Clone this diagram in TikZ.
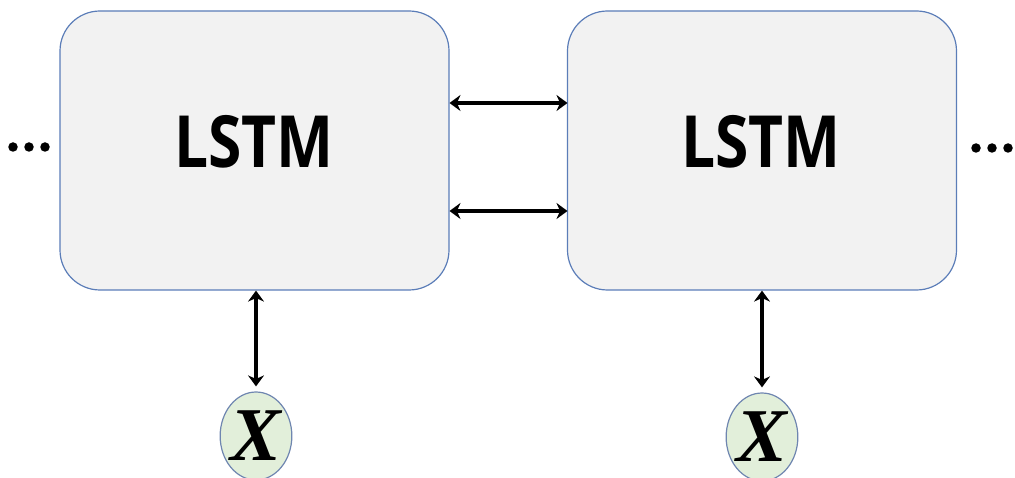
\documentclass[tikz,border=0pt]{standalone}
\usepackage{fontspec}
\setmainfont{Open Sans}
\newfontfamily\lstmfont{Open Sans}[UprightFont={* Bold}]
\newfontfamily\xfont{Liberation Serif}[UprightFont={* Bold Italic}]
\usetikzlibrary{arrows.meta,shapes.geometric}
\definecolor{boxfill}{HTML}{F2F2F2}
\definecolor{boxline}{HTML}{5B7DB8}
\definecolor{ellfill}{HTML}{E2EFDA}
\definecolor{ellline}{HTML}{6F86B0}
\tikzset{
  lstmbox/.style={draw=boxline, fill=boxfill, line width=1.2pt, rounded corners=40pt, minimum width=389pt, minimum height=279pt, inner sep=0pt},
  lstmtext/.style={font=\lstmfont\fontsize{72}{80}\selectfont, inner sep=0pt, xscale=0.84},
  xnode/.style={ellipse, draw=ellline, fill=ellfill, line width=1.2pt, minimum width=68pt, minimum height=88pt, inner sep=0pt, font=\xfont\fontsize{76}{80}\selectfont},
  link/.style={line width=3.6pt, >={Stealth[length=11pt,width=16pt]}, <->},
  dot/.style={circle, fill=black, minimum size=9.5pt, inner sep=0pt},
}
\begin{document}
\begin{tikzpicture}[x=1pt,y=-1pt]
\useasboundingbox (0,0) rectangle (1015,478);
\node[lstmbox] (b1) at (254.5,150.5) {};
\node[lstmbox] (b2) at (762,150.5) {};
\node[lstmtext] (t1) at (254,142) {LSTM};
\node[lstmtext] (t2) at (761,142) {LSTM};
\node[xnode] (x1) at (256,436) {X};
\node[xnode] (x2) at (762,437) {X};
\coordinate (a1l) at (449.5,103); \coordinate (a1r) at (567.5,103);
\coordinate (a2l) at (449.5,211); \coordinate (a2r) at (567.5,211);
\draw[link] (a1l) -- (a1r);
\draw[link] (a2l) -- (a2r);
\draw[link] (x1.north |- b1.south) -- ([yshift=5pt]x1.north);
\draw[link] (x2.north |- b2.south) -- ([yshift=5pt]x2.north);
\node[dot] (d1) at (13,147) {};
\node[dot] (d2) at (29,147) {};
\node[dot] (d3) at (45,147) {};
\node[dot] (d4) at (976,148) {};
\node[dot] (d5) at (992,148) {};
\node[dot] (d6) at (1008,148) {};
\end{tikzpicture}
\end{document}
